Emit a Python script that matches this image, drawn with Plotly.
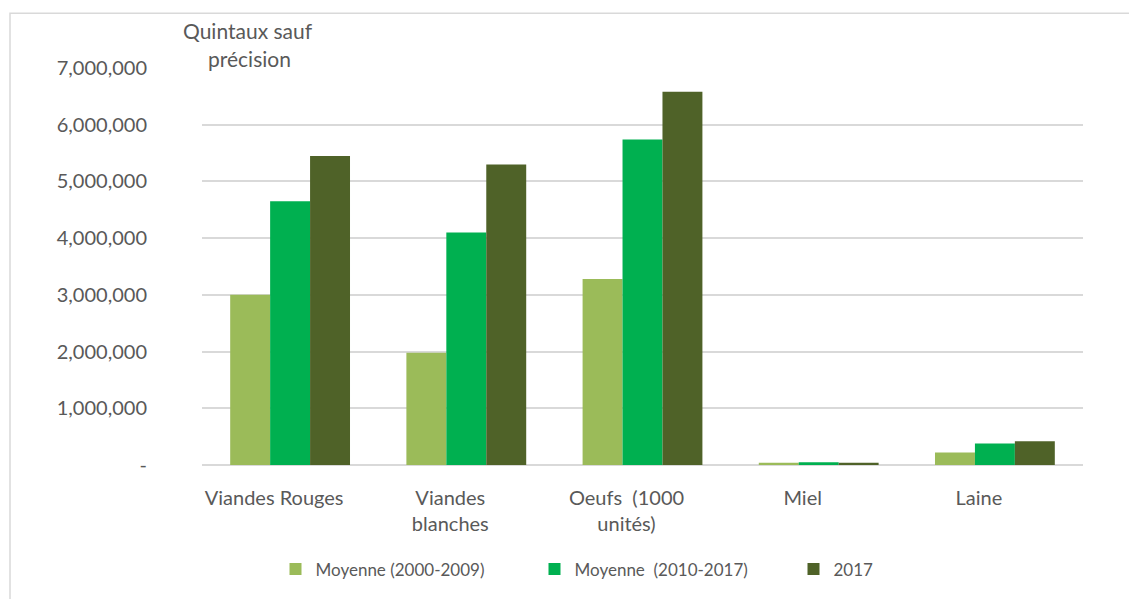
import plotly.graph_objects as go

categories = ["Viandes Rouges", "Viandes<br>blanches", "Oeufs  (1000<br>unités)", "Miel", "Laine"]
series_names = ["Moyenne (2000-2009)", "Moyenne  (2010-2017)", "2017"]
moy_2000_2009 = [3000000, 1980000, 3280000, 40000, 220000]
moy_2010_2017 = [4650000, 4100000, 5740000, 50000, 380000]
val_2017 = [5450000, 5300000, 6580000, 40000, 420000]
colors = ["#9BBB59", "#00B050", "#4F6228"]
tick_vals = [0, 1000000, 2000000, 3000000, 4000000, 5000000, 6000000, 7000000]
tick_text = ["-", "1,000,000", "2,000,000", "3,000,000", "4,000,000", "5,000,000", "6,000,000", "7,000,000"]

OFF = 8  # page body margin
W, H = 1137 - OFF, 599 - OFF
# plot area in page pixel coords
PX0, PX1, PY0, PY1 = 202, 1083, 68, 467
ml, mr = PX0 - OFF, W - (PX1 - OFF)
mt, mb = PY0 - OFF, H - (PY1 - OFF)
pw, ph = PX1 - PX0, PY1 - PY0

def px_x(x):
    return (x - PX0) / pw

def px_y(y):
    return (PY1 - y) / ph

fig = go.Figure()
for name, vals, col in zip(series_names, [moy_2000_2009, moy_2010_2017, val_2017], colors):
    fig.add_trace(go.Bar(
        x=categories, y=vals, name=name,
        marker=dict(color=col, line=dict(width=0)),
    ))

font_family = "Lato, Noto Sans, sans-serif"
grey = "#595959"
fig.update_layout(
    width=W, height=H,
    margin=dict(l=ml, r=mr, t=mt, b=mb),
    paper_bgcolor="white", plot_bgcolor="white",
    barmode="group", bargap=0.32, bargroupgap=0,
    font=dict(family=font_family, size=20, color=grey),
    showlegend=True,
    legend=dict(orientation="h", x=px_x(664), xanchor="center", y=px_y(572), yanchor="middle",
                font=dict(size=17, color=grey), bgcolor="rgba(0,0,0,0)",
                entrywidth=214, entrywidthmode="pixels"),
    xaxis=dict(showgrid=False, showline=False, ticks="", tickfont=dict(size=20, color=grey),
               ticklabelstandoff=19, ticklabelshift=-16),
    yaxis=dict(range=[0, 7000000], tickvals=tick_vals, ticktext=tick_text,
               showgrid=True, gridcolor="#D9D9D9", gridwidth=1.5, zeroline=True,
               zerolinecolor="#D9D9D9", zerolinewidth=1.5, showline=False, ticks="",
               tickfont=dict(size=20, color=grey), ticklabelstandoff=54),
    annotations=[
        dict(text="Quintaux sauf", xref="paper", yref="paper",
             x=px_x(181), y=px_y(30), xanchor="left", yanchor="middle",
             showarrow=False, font=dict(size=21, color=grey)),
        dict(text="précision", xref="paper", yref="paper",
             x=px_x(206), y=px_y(58), xanchor="left", yanchor="middle",
             showarrow=False, font=dict(size=21, color=grey)),
    ],
    shapes=[dict(type="rect", xref="paper", yref="paper",
                 x0=px_x(10), x1=px_x(1150), y0=px_y(620), y1=px_y(13),
                 line=dict(color="#D9D9D9", width=1.5), fillcolor="rgba(0,0,0,0)", layer="below")],
)

fig.write_html("out.html")
